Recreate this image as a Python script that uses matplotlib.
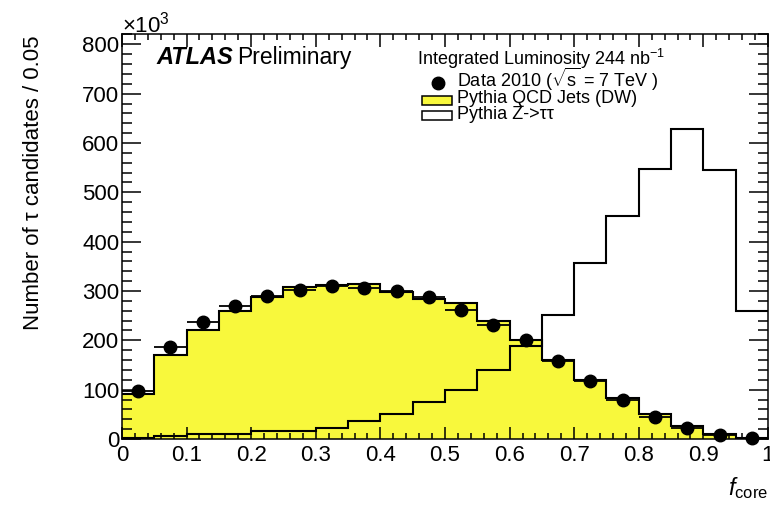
import numpy as np
import matplotlib
matplotlib.use("Agg")
import matplotlib.pyplot as plt
from matplotlib.patches import Rectangle
from matplotlib.ticker import MultipleLocator, FuncFormatter

plt.rcParams.update({
    "font.family": ["Liberation Sans", "DejaVu Sans"],
    "mathtext.fontset": "custom",
    "mathtext.rm": "Liberation Sans",
    "mathtext.it": "Liberation Sans:italic",
    "mathtext.bf": "Liberation Sans:bold",
})

# binning in f_core (width 0.05), counts in units of 10^3
bin_edges = np.linspace(0.0, 1.0, 21)
data_2010 = [98, 187, 238, 269, 289, 303, 310, 307, 300, 287,
             262, 232, 200, 159, 118, 79, 45, 23, 8, 2]
qcd_jets = [92, 171, 221, 260, 288, 309, 312, 314, 297, 284,
            275, 240, 201, 160, 120, 83, 50, 27, 10, 2]
z_tautau = [3, 6, 11, 11, 17, 17, 23, 36, 50, 76,
            99, 139, 188, 251, 357, 452, 548, 628, 546, 259]

YELLOW = "#f8f83c"
LW = 1.5

fig = plt.figure(figsize=(7.7, 5.11), dpi=100)
ax = fig.add_axes([0.1584, 0.1409, 0.839, 0.7926])

centers = 0.5 * (bin_edges[:-1] + bin_edges[1:])
half_w = 0.5 * np.diff(bin_edges)

ax.stairs(qcd_jets, bin_edges, fill=True, facecolor=YELLOW, edgecolor="none", zorder=1)
ax.stairs(qcd_jets, bin_edges, color="k", lw=LW, baseline=None, zorder=2)
ax.stairs(z_tautau, bin_edges, color="k", lw=LW, baseline=None, zorder=3)
ax.errorbar(centers, data_2010, xerr=half_w, fmt="o", color="k", ms=9,
            elinewidth=1.3, capsize=0, zorder=5, clip_on=False)

ax.set_xlim(0, 1)
ax.set_ylim(0, 821)

ax.xaxis.set_major_locator(MultipleLocator(0.1))
ax.xaxis.set_minor_locator(MultipleLocator(0.02))
ax.yaxis.set_major_locator(MultipleLocator(100))
ax.yaxis.set_minor_locator(MultipleLocator(20))
ax.xaxis.set_major_formatter(FuncFormatter(lambda v, p: "%g" % round(v, 2)))
ax.yaxis.set_major_formatter(FuncFormatter(lambda v, p: "%d" % round(v)))

ax.tick_params(which="both", direction="in", top=True, right=True,
               width=1.1, labelsize=16, colors="k")
ax.tick_params(axis="y", which="major", length=14, pad=2)
ax.tick_params(axis="y", which="minor", length=7)
ax.tick_params(axis="x", which="major", length=9, pad=4)
ax.tick_params(axis="x", which="minor", length=4.5)
for sp in ax.spines.values():
    sp.set_linewidth(1.1)

# axis titles
fig.text(0.043, 1 - 35 / 511, "Number of \u03c4 candidates / 0.05", rotation=90,
         ha="center", va="top", fontsize=16)
ax.text(1.0, -0.138, r"$f_{\mathrm{core}}$", transform=ax.transAxes,
        ha="right", va="baseline", fontsize=17)
ax.text(0.0, 1.003, r"$\times10^{3}$", transform=ax.transAxes,
        ha="left", va="baseline", fontsize=16)

# ATLAS label, "Preliminary" placed just after the bold part
atlas = ax.text(0.053, 0.925, "ATLAS", transform=ax.transAxes, fontsize=17,
                fontweight="bold", fontstyle="italic", va="baseline")
renderer = fig.canvas.get_renderer()
bb = atlas.get_window_extent(renderer=renderer)
x_pre = ax.transAxes.inverted().transform((bb.x1 + 4, bb.y0))[0]
ax.text(x_pre, 0.925, "Preliminary", transform=ax.transAxes, fontsize=16.5,
        va="baseline")

# legend
LEG_FS = 13
ax.text(0.456, 0.9235, r"Integrated Luminosity 244 nb$^{\mathrm{-1}}$",
        transform=ax.transAxes, fontsize=LEG_FS, va="baseline")
ax.plot([0.489], [0.879], "o", color="k", ms=9, transform=ax.transAxes, clip_on=False)
ax.text(0.518, 0.869, r"Data 2010 ($\sqrt{\mathrm{s}}$ = 7 TeV )",
        transform=ax.transAxes, fontsize=LEG_FS, va="baseline")
ax.add_patch(Rectangle((0.465, 0.825), 0.046, 0.022, transform=ax.transAxes,
                       facecolor=YELLOW, edgecolor="k", lw=1.1))
ax.text(0.518, 0.829, "Pythia QCD Jets (DW)", transform=ax.transAxes,
        fontsize=LEG_FS, va="baseline")
ax.add_patch(Rectangle((0.465, 0.788), 0.046, 0.022, transform=ax.transAxes,
                       facecolor="white", edgecolor="k", lw=1.1))
ax.text(0.518, 0.790, "Pythia Z->\u03c4\u03c4", transform=ax.transAxes,
        fontsize=LEG_FS, va="baseline")

fig.savefig("out.png", dpi=100)
